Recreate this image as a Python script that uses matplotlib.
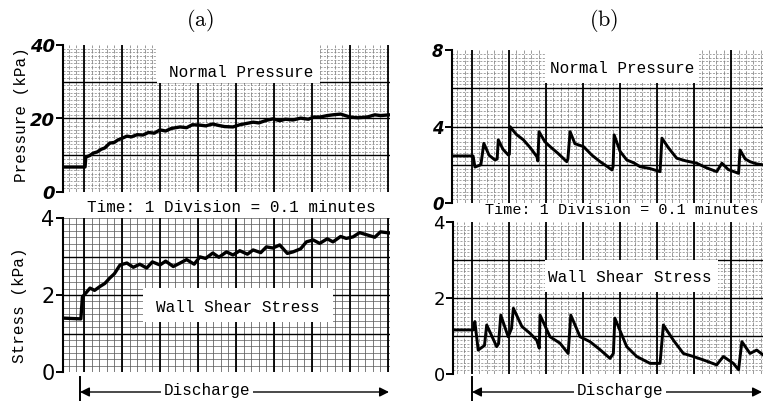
import numpy as np
import matplotlib.pyplot as plt
from matplotlib.patches import Rectangle, FancyArrowPatch
from matplotlib.lines import Line2D

plt.rcParams['mathtext.fontset'] = 'cm'

# time in minutes from the start of discharge (1 chart division = 0.1 min)
t_a_press = [-0.055, 0.003, 0.005, 0.015, 0.025, 0.035, 0.045, 0.055, 0.068, 0.08,
             0.09, 0.1, 0.113, 0.125, 0.14, 0.155, 0.17, 0.185, 0.2, 0.215,
             0.23, 0.253, 0.27, 0.285, 0.305, 0.32, 0.339, 0.355, 0.37, 0.392,
             0.41, 0.425, 0.445, 0.46, 0.48, 0.497, 0.515, 0.53, 0.55, 0.57,
             0.59, 0.605, 0.621, 0.64, 0.655, 0.675, 0.7, 0.72, 0.745, 0.765,
             0.78, 0.805]
a_press = [6.8, 6.8, 9.5, 9.9, 10.6, 10.9, 11.6, 12.0, 13.3, 13.5,
           14.2, 14.6, 15.2, 15.0, 15.6, 15.5, 16.2, 16.0, 16.9, 16.6,
           17.3, 17.7, 17.5, 18.3, 18.2, 18.0, 18.5, 18.1, 17.8, 17.7,
           18.3, 18.6, 19.0, 18.8, 19.5, 19.9, 19.4, 19.8, 19.6, 20.1,
           19.8, 20.4, 20.4, 20.8, 21.0, 21.2, 20.4, 20.2, 20.4, 21.0,
           20.8, 21.0]

t_a_shear = [-0.055, -0.008, -0.004, 0.005, 0.016, 0.028, 0.042, 0.055, 0.068, 0.08,
             0.095, 0.113, 0.13, 0.147, 0.165, 0.18, 0.2, 0.215, 0.235, 0.253,
             0.27, 0.29, 0.305, 0.32, 0.339, 0.355, 0.375, 0.392, 0.41, 0.43,
             0.445, 0.465, 0.48, 0.497, 0.515, 0.535, 0.55, 0.57, 0.585, 0.603,
             0.62, 0.64, 0.655, 0.675, 0.69, 0.708, 0.725, 0.745, 0.765, 0.78,
             0.805]
a_shear = [1.40, 1.38, 1.95, 2.05, 2.18, 2.12, 2.22, 2.30, 2.44, 2.55,
           2.78, 2.83, 2.72, 2.80, 2.70, 2.86, 2.78, 2.88, 2.74, 2.83,
           2.92, 2.80, 2.99, 2.95, 3.09, 2.98, 3.12, 3.04, 3.15, 3.06,
           3.17, 3.10, 3.25, 3.22, 3.30, 3.08, 3.12, 3.20, 3.38, 3.43,
           3.34, 3.46, 3.38, 3.52, 3.47, 3.51, 3.62, 3.56, 3.50, 3.64,
           3.61]

t_b_press = [-0.054, 0.003, 0.008, 0.024, 0.032, 0.046, 0.062, 0.068, 0.071, 0.084,
             0.098, 0.101, 0.103, 0.119, 0.139, 0.157, 0.175, 0.178, 0.181, 0.197,
             0.211, 0.232, 0.256, 0.259, 0.265, 0.278, 0.301, 0.324, 0.346, 0.362,
             0.378, 0.381, 0.384, 0.4, 0.418, 0.437, 0.454, 0.481, 0.508, 0.513,
             0.53, 0.553, 0.578, 0.607, 0.632, 0.661, 0.675, 0.692, 0.72, 0.724,
             0.738, 0.751, 0.768, 0.787]
b_press = [2.46, 2.46, 1.88, 2.0, 3.12, 2.5, 2.25, 2.3, 3.30, 2.8,
           2.51, 2.55, 3.99, 3.6, 3.30, 2.9, 2.43, 2.2, 3.73, 3.2,
           2.95, 2.6, 2.16, 2.3, 3.73, 3.1, 2.95, 2.5, 2.16, 1.95,
           1.73, 1.9, 3.56, 2.7, 2.25, 2.1, 1.90, 1.80, 1.64, 3.39,
           2.9, 2.34, 2.2, 2.08, 1.85, 1.64, 2.08, 1.75, 1.55, 2.77,
           2.3, 2.16, 2.05, 1.99]

t_b_shear = [-0.054, 0.004, 0.008, 0.017, 0.034, 0.04, 0.067, 0.072, 0.078, 0.098,
             0.107, 0.112, 0.135, 0.157, 0.175, 0.182, 0.184, 0.211, 0.238, 0.26,
             0.267, 0.292, 0.319, 0.346, 0.373, 0.382, 0.386, 0.418, 0.445, 0.481,
             0.508, 0.517, 0.544, 0.571, 0.598, 0.625, 0.661, 0.679, 0.706, 0.72,
             0.729, 0.751, 0.769, 0.792]
b_shear = [1.16, 1.16, 1.38, 0.63, 0.75, 1.29, 0.72, 0.80, 1.55, 0.98,
           1.20, 1.73, 1.25, 1.07, 0.89, 0.68, 1.55, 0.98, 0.81, 0.54,
           1.55, 0.98, 0.85, 0.64, 0.41, 0.54, 1.47, 0.72, 0.46, 0.28,
           0.28, 1.29, 0.89, 0.54, 0.46, 0.37, 0.24, 0.46, 0.28, 0.11,
           0.85, 0.54, 0.63, 0.46]

W, H = 765, 401
fig = plt.figure(figsize=(W / 100, H / 100), dpi=100)


def px_axes(left, top, right, bottom):
    return fig.add_axes([left / W, 1 - bottom / H, (right - left) / W, (bottom - top) / H])


def fx(x):
    return x / W


def fy(y):
    return 1 - y / H


def chart_paper(ax, ymajor, yminor, solid_minor=False):
    x0, x1 = ax.get_xlim()
    y0, y1 = ax.get_ylim()
    ls_v = '-' if solid_minor else (0, (5, 2))
    ls_h = '-' if solid_minor else (0, (3, 2))
    c_minor = '0.35' if solid_minor else '0.5'
    for x in np.arange(np.ceil(x0 / 0.02) * 0.02, x1, 0.02):
        ax.axvline(x, color=c_minor, lw=0.55, ls=ls_v, zorder=1)
    for x in np.arange(0, x1, 0.1):
        ax.axvline(x, color='black', lw=1.3, zorder=2)
    for y in np.arange(yminor, y1, yminor):
        ax.axhline(y, color=c_minor, lw=0.5, ls=ls_h, zorder=1)
    for y in np.arange(ymajor, y1, ymajor):
        ax.axhline(y, color='black', lw=1.0, zorder=2)


def style_axis(ax, ticks, fontsize, italic):
    for side in ('top', 'right', 'bottom'):
        ax.spines[side].set_visible(False)
    ax.spines['left'].set_linewidth(1.5)
    ax.set_xticks([])
    ax.set_yticks(ticks)
    ax.tick_params(axis='y', direction='out', length=5, width=1.4, pad=1)
    for lab in ax.get_yticklabels():
        lab.set_fontsize(fontsize)
        lab.set_fontstyle('italic' if italic else 'normal')
        lab.set_fontweight('bold' if italic else 'normal')


def label_box(ax, box, text_xy, text):
    (bx0, by0, bx1, by1) = box
    ax.add_patch(Rectangle((bx0, by0), bx1 - bx0, by1 - by0, transform=ax.transAxes,
                           facecolor='white', edgecolor='none', zorder=3))
    ax.text(text_xy[0], text_xy[1], text, transform=ax.transAxes, ha='center', va='center',
            family='Liberation Mono', fontsize=11.5, zorder=4)


mono = dict(family='Liberation Mono', fontsize=11.5)

# ---- (a) ----
ax1 = px_axes(63, 45, 390, 192)
ax1.set_xlim(-0.055, 0.805)
ax1.set_ylim(0, 40)
chart_paper(ax1, 10, 1)
label_box(ax1, (0.287, 0.741, 0.786, 1.0), (0.546, 0.816), 'Normal Pressure')
ax1.plot(t_a_press, a_press, color='black', lw=2.4, zorder=5)
style_axis(ax1, [0, 20, 40], 13, True)

ax2 = px_axes(63, 218, 390, 372)
ax2.set_xlim(-0.055, 0.805)
ax2.set_ylim(0, 4)
chart_paper(ax2, 1, 1 / 6, solid_minor=True)
label_box(ax2, (0.245, 0.325, 0.826, 0.545), (0.535, 0.416), 'Wall Shear Stress')
ax2.plot(t_a_shear, a_shear, color='black', lw=2.4, zorder=5)
style_axis(ax2, [0, 2, 4], 15, False)

# ---- (b) ----
ax3 = px_axes(452, 50, 763, 203)
ax3.set_xlim(-0.054, 0.786)
ax3.set_ylim(0, 8)
chart_paper(ax3, 2, 0.2)
label_box(ax3, (0.299, 0.784, 0.791, 1.0), (0.548, 0.882), 'Normal Pressure')
ax3.plot(t_b_press, b_press, color='black', lw=2.1, zorder=5)
style_axis(ax3, [0, 4, 8], 12, True)

ax4 = px_axes(453, 222, 763, 374)
ax4.set_xlim(-0.051, 0.786)
ax4.set_ylim(0, 4)
chart_paper(ax4, 1, 0.1)
label_box(ax4, (0.297, 0.539, 0.855, 0.75), (0.571, 0.638), 'Wall Shear Stress')
ax4.plot(t_b_shear, b_shear, color='black', lw=2.1, zorder=5)
style_axis(ax4, [0, 2, 4], 13, False)

# figure-level annotations
fig.text(fx(200), fy(20), r'$\mathrm{(a)}$', ha='center', va='center', fontsize=16)
fig.text(fx(604), fy(20), r'$\mathrm{(b)}$', ha='center', va='center', fontsize=16)
fig.text(fx(231), fy(207), 'Time: 1 Division = 0.1 minutes', ha='center', va='center', **mono)
fig.text(fx(622), fy(210), 'Time: 1 Division = 0.1 minutes', ha='center', va='center',
         family='Liberation Mono', fontsize=10.9)
fig.text(fx(22), fy(115), 'Pressure (kPa)', rotation=90, ha='center', va='center', **mono)
fig.text(fx(20), fy(305), 'Stress (kPa)', rotation=90, ha='center', va='center', **mono)

for x_start, x_end, x_text in [(80, 389, 207), (472, 762, 620)]:
    fig.add_artist(Line2D([fx(x_start), fx(x_start)], [fy(377), fy(401)],
                          color='black', lw=1.4))
    fig.add_artist(FancyArrowPatch((fx(x_start), fy(392)), (fx(x_end), fy(392)),
                                   transform=fig.transFigure, arrowstyle='<|-|>',
                                   mutation_scale=14, color='black', lw=1.0,
                                   shrinkA=0, shrinkB=0))
    fig.text(fx(x_text), fy(391), 'Discharge', ha='center', va='center',
             bbox=dict(facecolor='white', edgecolor='none', pad=2), **mono)

fig.savefig('out.png', dpi=100)
